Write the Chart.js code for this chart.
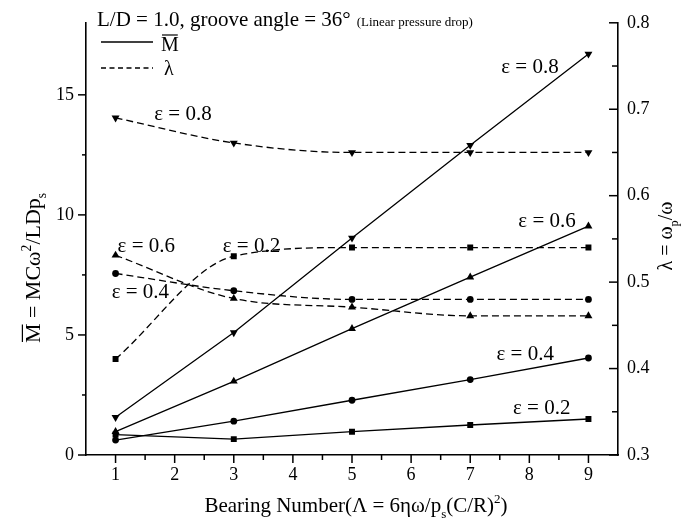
<!DOCTYPE html>
<html>
<head>
<meta charset="utf-8">
<script src="https://cdn.jsdelivr.net/npm/chart.js@4"></script>
<style>
  html, body { margin: 0; padding: 0; background: #fff; }
  canvas { display: block; }
</style>
</head>
<body>
<canvas id="grafico" width="689" height="524"></canvas>
<script>
// valores
const bearingNumbers = [1, 3, 5, 7, 9];

const mEps02 = [0.85, 0.66, 0.97, 1.25, 1.50];
const mEps04 = [0.62, 1.41, 2.28, 3.14, 4.04];
const mEps06 = [0.97, 3.07, 5.26, 7.41, 9.53];
const mEps08 = [1.57, 5.10, 9.04, 12.9, 16.7];

const lambdaEps02 = [0.411, 0.530, 0.540, 0.540, 0.540];
const lambdaEps04 = [0.510, 0.490, 0.480, 0.480, 0.480];
const lambdaEps06 = [0.531, 0.481, 0.471, 0.461, 0.461];
const lambdaEps08 = [0.690, 0.661, 0.650, 0.650, 0.650];

const xTickLabels = ["1", "2", "3", "4", "5", "6", "7", "8", "9"];
const yTickLabels = ["0", "5", "10", "15"];
const y1TickLabels = ["0.3", "0.4", "0.5", "0.6", "0.7", "0.8"];

// rotulos epsilon (coordenadas no eixo x / eixo esquerdo)
const rotulosEps = [
  { texto: "ε = 0.8", x: 8.01, y: 16.13 },
  { texto: "ε = 0.8", x: 2.14, y: 14.17 },
  { texto: "ε = 0.6", x: 1.52, y: 8.70 },
  { texto: "ε = 0.2", x: 3.30, y: 8.70 },
  { texto: "ε = 0.4", x: 1.42, y: 6.75 },
  { texto: "ε = 0.6", x: 8.30, y: 9.74 },
  { texto: "ε = 0.4", x: 7.93, y: 4.20 },
  { texto: "ε = 0.2", x: 8.21, y: 1.94 }
];

const SERIF = '"Liberation Serif", "Times New Roman", serif';

function pontos(valores) {
  return bearingNumbers.map((x, i) => ({ x: x, y: valores[i] }));
}

function serieM(valores, estilo, raio, rot) {
  return {
    data: pontos(valores),
    yAxisID: "y",
    borderColor: "#000",
    backgroundColor: "#000",
    borderWidth: 1.3,
    pointStyle: estilo,
    pointRadius: raio,
    pointRotation: rot,
    pointBorderWidth: 0,
    tension: 0
  };
}

function serieLambda(valores, estilo, raio, rot) {
  return {
    data: pontos(valores),
    yAxisID: "y1",
    borderColor: "#000",
    backgroundColor: "#000",
    borderWidth: 1.3,
    borderDash: [7, 4],
    pointStyle: estilo,
    pointRadius: raio,
    pointRotation: rot,
    pointBorderWidth: 0,
    cubicInterpolationMode: "monotone"
  };
}

function ehMultiplo(v, passo) {
  return Math.abs(v / passo - Math.round(v / passo)) < 1e-6;
}

// texto com subscrito / sobrescrito / barra
function larguraRica(ctx, partes, tam) {
  let w = 0;
  partes.forEach(p => {
    const t = (p[1] === "sub" || p[1] === "sup") ? tam * 0.62 : tam;
    ctx.font = t + "px " + SERIF;
    w += ctx.measureText(p[0]).width;
  });
  return w;
}

function desenharRico(ctx, partes, x, y, tam) {
  let cx = x;
  partes.forEach(p => {
    const modo = p[1] || "";
    let t = tam, dy = 0;
    if (modo === "sub") { t = tam * 0.62; dy = tam * 0.28; }
    if (modo === "sup") { t = tam * 0.62; dy = -tam * 0.42; }
    ctx.font = t + "px " + SERIF;
    ctx.fillText(p[0], cx, y + dy);
    const w = ctx.measureText(p[0]).width;
    if (modo === "bar") {
      ctx.beginPath();
      ctx.lineWidth = 1.2;
      ctx.moveTo(cx + 1, y - tam * 0.8);
      ctx.lineTo(cx + w - 1, y - tam * 0.8);
      ctx.stroke();
    }
    cx += w;
  });
}

const extras = {
  id: "extras",
  afterDraw(chart) {
    const ctx = chart.ctx;
    const xs = chart.scales.x, ys = chart.scales.y, ys1 = chart.scales.y1;
    const area = chart.chartArea;
    ctx.save();
    ctx.strokeStyle = "#000";
    ctx.fillStyle = "#000";
    ctx.lineWidth = 1.5;

    // ticks do eixo x (para baixo)
    xs.ticks.forEach(t => {
      if (t.value <= xs.min + 1e-6 || t.value >= xs.max - 1e-6) return;
      const px = xs.getPixelForValue(t.value);
      const len = ehMultiplo(t.value, 1) ? 8 : 5;
      ctx.beginPath();
      ctx.moveTo(px, area.bottom);
      ctx.lineTo(px, area.bottom + len);
      ctx.stroke();
    });
    // ticks eixo esquerdo (para fora)
    ys.ticks.forEach(t => {
      if (!ehMultiplo(t.value, 2.5)) return;
      const py = ys.getPixelForValue(t.value);
      const len = ehMultiplo(t.value, 5) ? 8 : 4;
      ctx.beginPath();
      ctx.moveTo(area.left, py);
      ctx.lineTo(area.left - len, py);
      ctx.stroke();
    });
    // ticks eixo direito (para dentro)
    ys1.ticks.forEach(t => {
      if (!ehMultiplo(t.value, 0.05)) return;
      const py = ys1.getPixelForValue(t.value);
      const len = ehMultiplo(t.value, 0.1) ? 9 : 6;
      ctx.beginPath();
      ctx.moveTo(area.right, py);
      ctx.lineTo(area.right - len, py);
      ctx.stroke();
    });

    // titulo
    ctx.textBaseline = "alphabetic";
    ctx.textAlign = "left";
    ctx.font = "21px " + SERIF;
    const titulo = "L/D = 1.0, groove angle = 36°";
    ctx.fillText(titulo, 97, 26);
    const wt = ctx.measureText(titulo).width;
    ctx.font = "13px " + SERIF;
    ctx.fillText("(Linear pressure drop)", 97 + wt + 6, 26);

    // legenda
    ctx.lineWidth = 1.3;
    ctx.beginPath();
    ctx.moveTo(101, 42);
    ctx.lineTo(153, 42);
    ctx.stroke();
    ctx.setLineDash([5, 3.5]);
    ctx.beginPath();
    ctx.moveTo(101, 68);
    ctx.lineTo(153, 68);
    ctx.stroke();
    ctx.setLineDash([]);
    desenharRico(ctx, [["M", "bar"]], 161, 51, 20);
    desenharRico(ctx, [["λ"]], 164, 75, 20);

    // rotulos epsilon
    ctx.font = "21px " + SERIF;
    ctx.textAlign = "center";
    ctx.textBaseline = "middle";
    rotulosEps.forEach(r => {
      ctx.fillText(r.texto, xs.getPixelForValue(r.x), ys.getPixelForValue(r.y));
    });

    // titulos dos eixos
    ctx.textAlign = "left";
    ctx.textBaseline = "alphabetic";
    const tx = [["Bearing Number(Λ = 6ηω/p"], ["s", "sub"], ["(C/R)"], ["2", "sup"], [")"]];
    const wx = larguraRica(ctx, tx, 21);
    desenharRico(ctx, tx, (area.left + area.right) / 2 - wx / 2 + 4, 512, 21);

    const ty = [["M", "bar"], [" = MCω"], ["2", "sup"], ["/LDp"], ["s", "sub"]];
    const wy = larguraRica(ctx, ty, 22);
    ctx.save();
    ctx.translate(40, 268);
    ctx.rotate(-Math.PI / 2);
    desenharRico(ctx, ty, -wy / 2, 0, 22);
    ctx.restore();

    const ty1 = [["λ = ω"], ["p", "sub"], ["/ω"]];
    const wy1 = larguraRica(ctx, ty1, 20);
    ctx.save();
    ctx.translate(672, 236);
    ctx.rotate(-Math.PI / 2);
    desenharRico(ctx, ty1, -wy1 / 2, 0, 20);
    ctx.restore();

    ctx.restore();
  }
};

const fonteTicks = { family: SERIF, size: 18 };
const eixoBorda = { display: true, color: "#000", width: 1.6 };

new Chart(document.getElementById("grafico"), {
  type: "line",
  data: {
    datasets: [
      serieM(mEps02, "rect", 4.2, 0),
      serieM(mEps04, "circle", 3.4, 0),
      serieM(mEps06, "triangle", 4.6, 0),
      serieM(mEps08, "triangle", 4.6, 180),
      serieLambda(lambdaEps02, "rect", 4.2, 0),
      serieLambda(lambdaEps04, "circle", 3.4, 0),
      serieLambda(lambdaEps06, "triangle", 4.6, 0),
      serieLambda(lambdaEps08, "triangle", 4.6, 180)
    ]
  },
  options: {
    responsive: false,
    devicePixelRatio: 1,
    animation: false,
    events: [],
    layout: { padding: { top: 22, left: 0, right: 0, bottom: 0 } },
    plugins: { legend: { display: false }, tooltip: { enabled: false } },
    scales: {
      x: {
        type: "linear",
        min: 0.5,
        max: 9.5,
        afterFit: s => { s.height = 69; },
        grid: { display: false, drawTicks: false },
        border: eixoBorda,
        ticks: {
          stepSize: 0.5,
          autoSkip: false,
          maxRotation: 0,
          padding: 9,
          color: "#000",
          font: fonteTicks,
          callback: v => {
            const s = String(Math.round(v));
            return ehMultiplo(v, 1) && xTickLabels.includes(s) ? s : "";
          }
        }
      },
      y: {
        position: "left",
        min: 0,
        max: 18,
        afterFit: s => { s.width = 86; },
        grid: { display: false, drawTicks: false },
        border: eixoBorda,
        ticks: {
          stepSize: 2.5,
          autoSkip: false,
          padding: 12,
          color: "#000",
          font: fonteTicks,
          callback: v => {
            const s = String(Math.round(v));
            return ehMultiplo(v, 5) && yTickLabels.includes(s) ? s : "";
          }
        }
      },
      y1: {
        position: "right",
        min: 0.3,
        max: 0.8,
        afterFit: s => { s.width = 71; },
        grid: { display: false, drawTicks: false },
        border: eixoBorda,
        ticks: {
          stepSize: 0.05,
          autoSkip: false,
          padding: 9,
          color: "#000",
          font: fonteTicks,
          callback: v => {
            const s = v.toFixed(1);
            return ehMultiplo(v, 0.1) && y1TickLabels.includes(s) ? s : "";
          }
        }
      }
    }
  },
  plugins: [extras]
});
</script>
</body>
</html>
